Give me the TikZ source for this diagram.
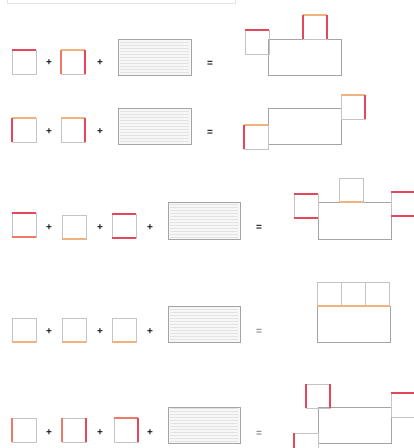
\documentclass[tikz,border=0pt]{standalone}
\usepackage{fontspec}
\setmainfont{Liberation Sans}
\definecolor{edgegray}{HTML}{C4C4C4}
\definecolor{boxgray}{HTML}{A4A4A4}
\definecolor{hotred}{HTML}{E2475C}
\definecolor{warmorange}{HTML}{F2B27E}
\definecolor{salmon}{HTML}{EC7A66}
\tikzset{
  tileedge/.style={draw=edgegray, line width=0.7pt},
  redge/.style={draw=hotred, line width=1.1pt},
  sedge/.style={draw=salmon, line width=1.1pt},
  oedge/.style={draw=warmorange, line width=1.1pt},
  bigbox/.style={draw=boxgray, line width=1pt},
  ruled/.style={draw=boxgray, line width=1pt, fill=gray!6},
  op/.style={font=\bfseries, inner sep=0pt, text=black!90},
  opfaint/.style={font=\bfseries, inner sep=0pt, text=black!45},
}
% a plain tile of side 24 with its top-left corner at (x,y)
\newcommand{\tile}[2]{\draw[tileedge] (#1,#2) rectangle ++(24,24);}
% coloured edges of a tile: style, x, y
\newcommand{\etop}[3]{\draw[#1] (#2,#3) -- ++(24,0);}
\newcommand{\ebot}[3]{\draw[#1] (#2,#3) ++(0,24) -- ++(24,0);}
\newcommand{\elft}[3]{\draw[#1] (#2,#3) -- ++(0,24);}
\newcommand{\ergt}[3]{\draw[#1] (#2,#3) ++(24,0) -- ++(0,24);}
% a ruled card: corners (x1,y1) and (x2,y2)
\newcommand{\card}[4]{%
  \draw[ruled] (#1,#2) rectangle (#3,#4);
  \begin{scope}
    \clip (#1,#2) rectangle (#3,#4);
    \foreach \yy in {#2,...,#4}{\pgfmathparse{mod(\yy,3)}\ifdim\pgfmathresult pt=0pt
      \draw[gray!22, line width=0.3pt] (#1+2,\yy) -- (#3-2,\yy);\fi}
  \end{scope}
  \draw[ruled, fill=none] (#1,#2) rectangle (#3,#4);}
\begin{document}
\begin{tikzpicture}[x=1pt,y=-1pt]
\useasboundingbox (0,0) rectangle (414,448);
\fill[white] (0,0) rectangle (414,448);
\clip (0,0) rectangle (414,448);

% header strip
\draw[gray!20, line width=0.8pt] (7,-6) rectangle (235,3);

% ---------- row 1 ----------
\tile{12}{50} \etop{redge}{12}{50}
\tile{61}{50} \etop{oedge}{61}{50} \elft{sedge}{61}{50} \ergt{redge}{61}{50}
\node[op] (p1a) at (49,63) {+};
\node[op] (p1b) at (100,63) {+};
\card{118}{39}{191}{75}
\node[op] (e1) at (210,64) {=};
\draw[bigbox] (268,39) rectangle (341,75);
\tile{245}{30} \etop{redge}{245}{30}
\tile{303}{15} \etop{oedge}{303}{15} \elft{redge}{303}{15} \ergt{redge}{303}{15}

% ---------- row 2 ----------
\tile{12}{118} \etop{oedge}{12}{118} \elft{redge}{12}{118}
\tile{61}{118} \etop{oedge}{61}{118} \ergt{redge}{61}{118}
\node[op] (p2a) at (49,132) {+};
\node[op] (p2b) at (100,132) {+};
\card{118}{108}{191}{144}
\node[op] (e2) at (210,133) {=};
\draw[bigbox] (268,108) rectangle (341,144);
\tile{244}{125} \etop{oedge}{244}{125} \elft{redge}{244}{125}
\tile{341}{95} \etop{oedge}{341}{95} \ergt{redge}{341}{95}

% ---------- row 3 ----------
\tile{12}{213} \etop{redge}{12}{213} \ebot{sedge}{12}{213}
\tile{62}{215} \ebot{oedge}{62}{215}
\tile{112}{214} \etop{redge}{112}{214} \ebot{redge}{112}{214}
\node[op] (p3a) at (49,228) {+};
\node[op] (p3b) at (100,228) {+};
\node[op] (p3c) at (150,228) {+};
\card{168}{202}{240}{239}
\node[op] (e3) at (259,228) {=};
\draw[bigbox] (318,202) rectangle (391,239);
\tile{339}{178} \ebot{oedge}{339}{178}
\tile{294}{194} \etop{redge}{294}{194} \ebot{redge}{294}{194}
\tile{391}{192} \etop{redge}{391}{192} \ebot{redge}{391}{192}

% ---------- row 4 ----------
\tile{12}{318} \ebot{oedge}{12}{318}
\tile{62}{318} \ebot{oedge}{62}{318}
\tile{112}{318} \ebot{oedge}{112}{318}
\node[op] (p4a) at (49,332) {+};
\node[op] (p4b) at (100,332) {+};
\node[op] (p4c) at (150,332) {+};
\card{168}{306}{240}{342}
\node[opfaint] (e4) at (259,332) {=};
\draw[bigbox] (317,306) rectangle (390,342);
\tile{317}{282} \tile{341}{282} \tile{365}{282}
\draw[oedge] (317,306) -- (390,306);

% ---------- row 5 ----------
\tile{12}{418} \elft{sedge}{12}{418}
\tile{62}{418} \elft{sedge}{62}{418} \ergt{redge}{62}{418}
\tile{114}{418} \etop{sedge}{114}{418} \ergt{redge}{114}{418}
\node[op] (p5a) at (49,433) {+};
\node[op] (p5b) at (100,433) {+};
\node[op] (p5c) at (150,433) {+};
\card{168}{407}{240}{443}
\node[opfaint] (e5) at (259,434) {=};
\draw[bigbox] (318,407) rectangle (391,443);
\tile{306}{384} \elft{redge}{306}{384} \ergt{redge}{306}{384}
\tile{391}{393} \etop{redge}{391}{393}
\tile{294}{433} \elft{redge}{294}{433}
\end{tikzpicture}
\end{document}
